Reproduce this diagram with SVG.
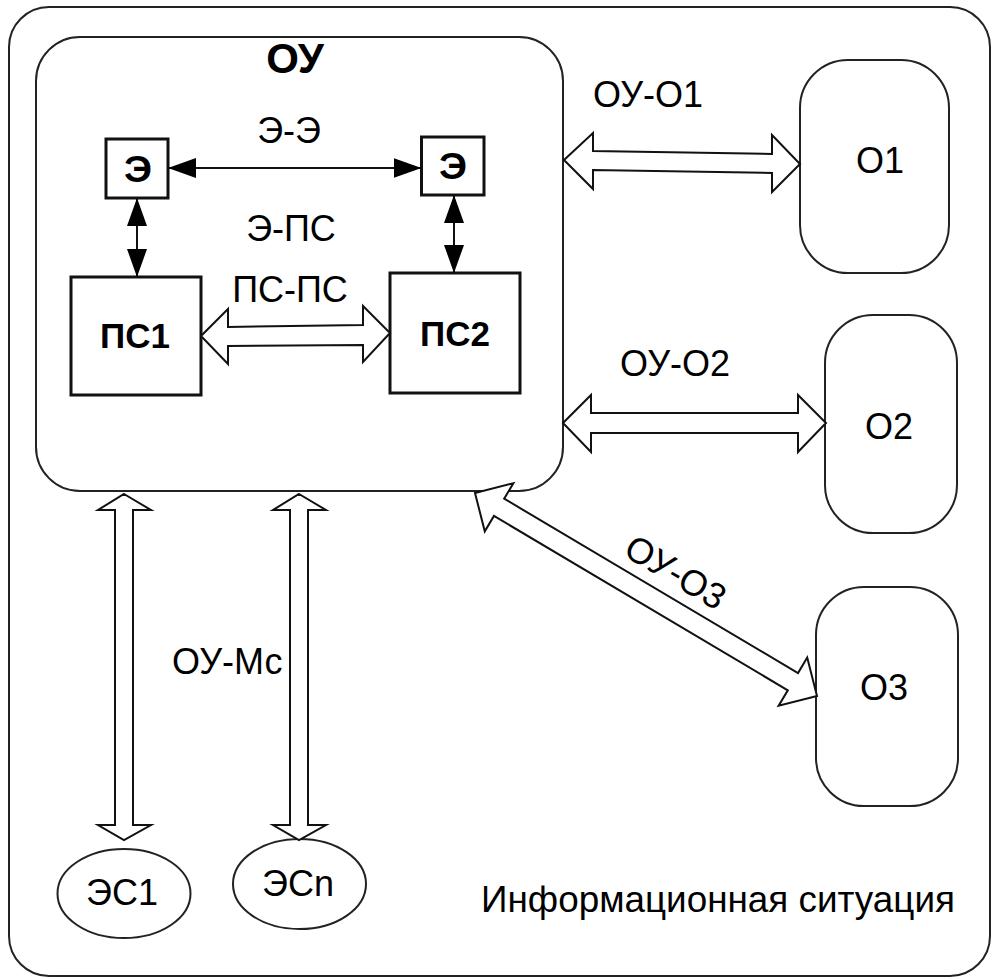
<svg xmlns="http://www.w3.org/2000/svg" width="994" height="979" viewBox="0 0 994 979">
<defs>
<style>
.frame{fill:#fff;stroke:#222;stroke-width:2}
.box{fill:#fff;stroke:#111;stroke-width:3}
.rbox{fill:#fff;stroke:#222;stroke-width:2}
.hollow{fill:#fff;stroke:#111;stroke-width:2;stroke-linejoin:miter}
.thin{stroke:#111;stroke-width:2;fill:none}
.t{font-family:"Liberation Sans",Arial,sans-serif;font-size:36px;fill:#000}
.b{font-family:"Liberation Sans",Arial,sans-serif;font-weight:bold;fill:#000}
.m{text-anchor:middle}
</style>
<marker id="ah" viewBox="0 0 28 20" refX="28" refY="10" markerWidth="28" markerHeight="20" markerUnits="userSpaceOnUse" orient="auto-start-reverse">
<path d="M0,0 L28,10 L0,20 Z" fill="#000"/>
</marker>
</defs>
<rect width="994" height="979" fill="#fff"/>
<g id="situation">
<rect class="frame" x="9" y="7" width="981" height="969" rx="40"/>
<text class="t" x="481" y="912" font-size="37" textLength="474" lengthAdjust="spacingAndGlyphs">Информационная ситуация</text>
</g>
<g id="OU">
<rect class="frame" x="36" y="37" width="527" height="454" rx="44"/>
<text class="b m" x="295" y="73" font-size="42">ОУ</text>
</g>
<g id="E1">
<rect class="box" x="106" y="139" width="62" height="59"/>
<text class="b m" x="138" y="182" font-size="36" textLength="28" lengthAdjust="spacingAndGlyphs">Э</text>
</g>
<g id="E2">
<rect class="box" x="421.5" y="137" width="62.5" height="58"/>
<text class="b m" x="453" y="179" font-size="36" textLength="28" lengthAdjust="spacingAndGlyphs">Э</text>
</g>
<g id="PS1">
<rect class="box" x="71" y="277" width="130" height="118"/>
<text class="b m" x="135" y="348" font-size="35">ПС1</text>
</g>
<g id="PS2">
<rect class="box" x="390" y="273" width="130" height="120"/>
<text class="b m" x="455" y="346" font-size="35">ПС2</text>
</g>
<g id="O1">
<rect class="rbox" x="800" y="60" width="149" height="213" rx="48"/>
<text class="t m" x="880" y="173">О1</text>
</g>
<g id="O2">
<rect class="rbox" x="825" y="315" width="132" height="218" rx="48"/>
<text class="t m" x="889" y="439">О2</text>
</g>
<g id="O3">
<rect class="rbox" x="816" y="587" width="142" height="219" rx="48"/>
<text class="t m" x="884" y="700">О3</text>
</g>
<g id="ES1">
<ellipse class="rbox" cx="124" cy="893.5" rx="66.5" ry="44.5"/>
<text class="t m" x="122" y="905">ЭС1</text>
</g>
<g id="ESn">
<ellipse class="rbox" cx="299.5" cy="884" rx="66.5" ry="45"/>
<text class="t m" x="298" y="896">ЭСn</text>
</g>
<g id="connectors">
<line class="thin" x1="168" y1="168" x2="421.5" y2="168" marker-start="url(#ah)" marker-end="url(#ah)"/>
<line class="thin" x1="137" y1="198" x2="137" y2="277" marker-start="url(#ah)" marker-end="url(#ah)"/>
<line class="thin" x1="454" y1="195" x2="454" y2="273" marker-start="url(#ah)" marker-end="url(#ah)"/>
<polygon class="hollow" points="201,336 228,309 228,327 363,325 363,306 390,333 363,362 363,345 228,346 228,364"/>
<polygon class="hollow" points="564,160 593,133 593,151 772,154 772,135 800,164 772,192 772,173 593,170 593,189"/>
<polygon class="hollow" points="563,423 591,395 591,413 798,413 798,395 826,423 798,452 798,433 591,433 591,452"/>
<g transform="translate(475,493) rotate(30.69)">
<polygon class="hollow" points="0,0 28,-28 28,-10 369.7,-10 369.7,-28 397.7,0 369.7,28 369.7,10 28,10 28,28"/>
<text class="t m" x="213" y="-22">ОУ-О3</text>
</g>
<polygon class="hollow" points="124,494 151,510 133,510 133,825 151,825 124,840 98,825 115,825 115,510 98,510"/>
<polygon class="hollow" points="299,494 326,510 308,510 308,825 326,825 299,840 273,825 290,825 290,510 273,510"/>
<text class="t m" x="289" y="143">Э-Э</text>
<text class="t m" x="291" y="241">Э-ПС</text>
<text class="t m" x="290" y="302">ПС-ПС</text>
<text class="t" x="593" y="107">ОУ-О1</text>
<text class="t" x="620" y="376">ОУ-О2</text>
<text class="t" x="172" y="674">ОУ-Мс</text>
</g>
</svg>
